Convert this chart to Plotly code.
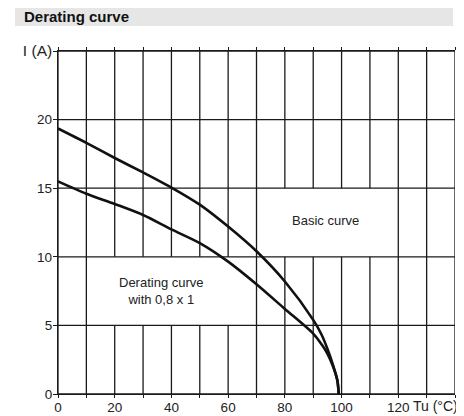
import plotly.graph_objects as go

# Data
basic_x = [0, 10, 20, 30, 40, 50, 60, 70, 80, 90, 93, 95, 97, 98.5, 99]
basic_y = [19.35, 18.3, 17.2, 16.15, 15.05, 13.8, 12.2, 10.4, 8.2, 5.4, 4.3, 3.3, 2.1, 1.0, 0]
derate_x = [0, 10, 20, 30, 40, 50, 60, 70, 80, 90, 93, 95, 97, 98.5, 99]
derate_y = [15.5, 14.6, 13.85, 13.05, 12.0, 11.0, 9.65, 8.0, 6.2, 4.4, 3.6, 2.95, 2.0, 1.0, 0]

x_grid = list(range(0, 141, 10))
y_grid = [0, 5, 10, 15, 20, 25]
x_ticklabels = ["0", "", "20", "", "40", "", "60", "", "80", "", "100", "", "120", "", ""]
y_ticklabels = ["0", "5", "10", "15", "20", "<span style='font-size:15.5px'>I (A)</span>"]

# grid gaps (label boxes): (x_from, x_to, y_from, y_to)
gaps = [(20, 60, 5, 10), (80, 110, 10, 15)]

gx, gy = [], []
for xv in x_grid:
    segs = [(0, 25)]
    for (a, b, c, d) in gaps:
        if a <= xv <= b:
            segs = [(0, c), (d, 25)]
    for s in segs:
        gx += [xv, xv, None]
        gy += [s[0], s[1], None]
for yv in y_grid:
    gx += [0, 140, None]
    gy += [yv, yv, None]

fig = go.Figure()
fig.add_trace(go.Scatter(x=gx, y=gy, mode="lines", line=dict(color="#1a1a1a", width=1.3),
                         hoverinfo="skip", showlegend=False))
fig.add_trace(go.Scatter(x=basic_x, y=basic_y, mode="lines",
                         line=dict(color="#111", width=2.6, shape="spline", smoothing=0.8),
                         showlegend=False))
fig.add_trace(go.Scatter(x=derate_x, y=derate_y, mode="lines",
                         line=dict(color="#111", width=2.6, shape="spline", smoothing=0.8),
                         showlegend=False))

font = "Liberation Sans, Arial, Helvetica, sans-serif"

fig.update_layout(
    width=456, height=408,
    margin=dict(l=50, r=9, t=43, b=22),
    paper_bgcolor="white", plot_bgcolor="white",
    font=dict(family=font, size=13, color="#222"),
    xaxis=dict(range=[0, 140], tickvals=x_grid, ticktext=x_ticklabels, showgrid=False, zeroline=False,
               showline=True, linecolor="#1a1a1a", linewidth=1.3, ticks="outside", ticklen=3,
               tickcolor="#1a1a1a", tickwidth=1.3, mirror="ticks", tickfont=dict(size=13.5),
               ticklabelstandoff=-2, automargin=False),
    yaxis=dict(range=[0, 25], tickvals=y_grid, ticktext=y_ticklabels, showgrid=False, zeroline=False,
               showline=True, linecolor="#1a1a1a", linewidth=1.3, ticks="outside", ticklen=4,
               tickcolor="#1a1a1a", tickwidth=1.3, tickfont=dict(size=13.5), ticklabelstandoff=-2,
               automargin=False),
    shapes=[dict(type="rect", xref="paper", yref="paper", x0=-0.1083, x1=0.995, y0=1.073, y1=1.131,
                 fillcolor="#e6e6e6", line=dict(width=0), layer="below")],
    annotations=[
        dict(text="<b>Derating curve</b>", xref="paper", yref="paper", x=-0.0907, y=1.102,
             xanchor="left", yanchor="middle", showarrow=False, font=dict(size=15, color="#111")),
        dict(text="Basic curve", x=94.2, y=12.64, showarrow=False, font=dict(size=13, color="#222")),
        dict(text="Derating curve<br>with 0,8 x 1", x=36.6, y=7.54, showarrow=False,
             font=dict(size=13, color="#222")),
        dict(text="Tu (°C)", x=1, xref="paper", xanchor="right", xshift=5, yref="paper", y=0,
             yanchor="top", yshift=-2, showarrow=False, font=dict(size=14, color="#222")),
    ],
)

fig.write_html("out.html")
